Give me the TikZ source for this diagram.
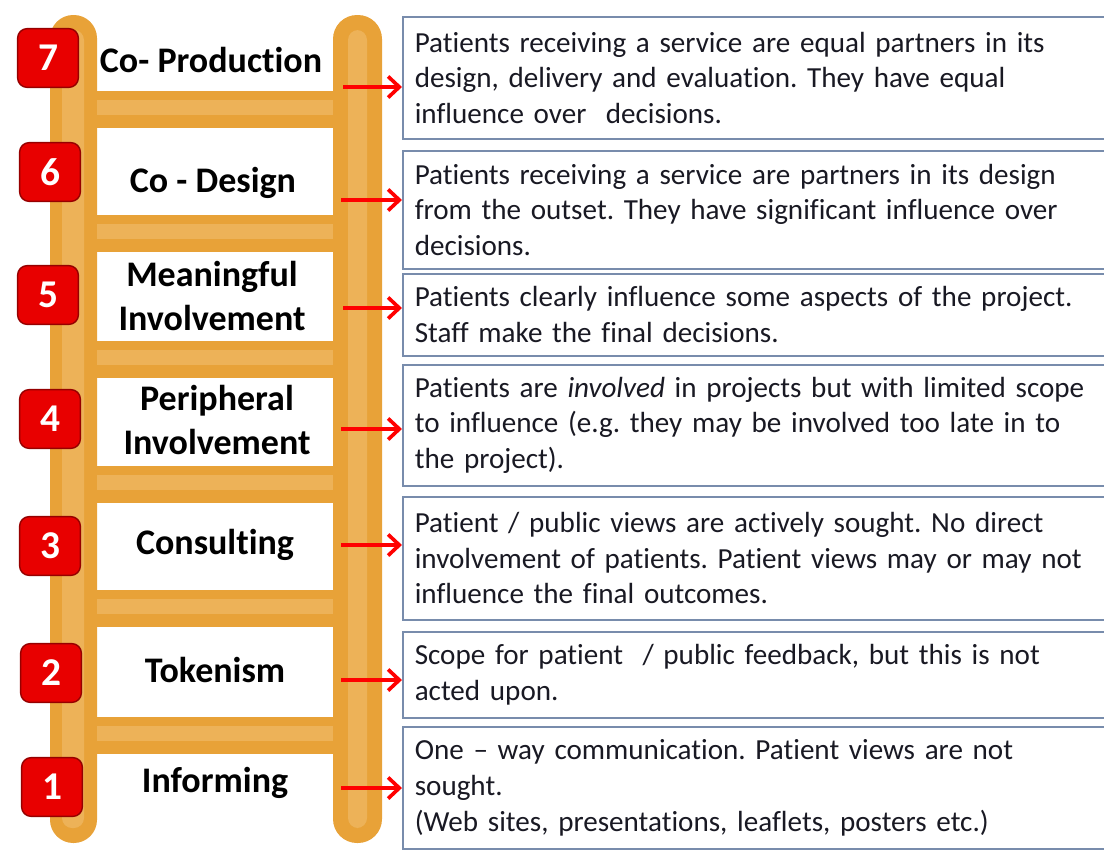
\documentclass[tikz,border=0pt]{standalone}
\usepackage{fontspec}
\setmainfont{Carlito}[Ligatures={TeX,NoCommon}]
\usetikzlibrary{arrows.meta}
\frenchspacing

\definecolor{railorange}{RGB}{232,162,56}
\definecolor{raillight}{RGB}{237,178,88}
\definecolor{badgered}{RGB}{232,0,0}
\definecolor{badgeedge}{RGB}{150,0,0}
\definecolor{boxedge}{RGB}{120,140,172}
\definecolor{boxtext}{RGB}{25,25,35}

\tikzset{
  badge/.style={draw=badgeedge, line width=1pt, fill=badgered,
    rounded corners=0.24cm, minimum width=1.52cm, minimum height=1.47cm,
    inner sep=0pt, text=white, font=\fontsize{28}{28}\selectfont\bfseries},
  rung label/.style={font=\fontsize{25.6}{31.3}\selectfont\bfseries,
    align=center, inner sep=0pt},
  infobox/.style={draw=boxedge, line width=1.1pt, fill=white, anchor=north west,
    text width=17.5cm, inner xsep=0.3cm, align=left, text=boxtext,
    font=\fontsize{20.7}{25.3}\selectfont},
  pointer/.style={->, draw=red, line width=2.6pt}
}

\begin{document}
\begin{tikzpicture}[x=0.025cm,y=-0.025cm,>={Straight Barb[length=8pt,width=15pt]}]

        % ============================================
        % PAGE FRAME
        % ============================================
        \useasboundingbox (0,0) rectangle (1104,849);
        \clip (0,0) rectangle (1104,849);

        % ============================================
        % LADDER – RAILS AND RUNGS
        % ============================================

        % Rails
        \fill[railorange, rounded corners=0.58cm] (50,15) rectangle (97,843);
        \fill[raillight, rounded corners=0.25cm] (62,30) rectangle (84,828);
        \fill[railorange, rounded corners=0.6cm] (333,15) rectangle (382,843);
        \fill[raillight, rounded corners=0.25cm] (348,30) rectangle (367,828);

        % Rungs (top to bottom)
        \fill[railorange] (97,91) rectangle (333,128);
        \fill[raillight] (97,100) rectangle (333,115);
        \fill[railorange] (97,215) rectangle (333,252);
        \fill[raillight] (97,224) rectangle (333,239);
        \fill[railorange] (97,341) rectangle (333,378);
        \fill[raillight] (97,350) rectangle (333,365);
        \fill[railorange] (97,466) rectangle (333,503);
        \fill[raillight] (97,475) rectangle (333,490);
        \fill[railorange] (97,590) rectangle (333,627);
        \fill[raillight] (97,599) rectangle (333,614);
        \fill[railorange] (97,717) rectangle (333,754);
        \fill[raillight] (97,726) rectangle (333,741);

        % Step names
        \node[rung label] (l7) at (211,60) {Co- Production};
        \node[rung label] (l6) at (213,183) {Co - Design};
        \node[rung label] (l5) at (212,296) {Meaningful\\Involvement};
        \node[rung label] (l4) at (217,420) {Peripheral\\Involvement};
        \node[rung label] (l3) at (215,545) {Consulting};
        \node[rung label] (l2) at (215,670) {Tokenism};
        \node[rung label] (l1) at (215,783) {Informing};

        % Step numbers
        \node[badge] (n7) at (48,58) {7};
        \node[badge] (n6) at (50,172) {6};
        \node[badge] (n5) at (48,295) {5};
        \node[badge] (n4) at (50,419) {4};
        \node[badge] (n3) at (50,546) {3};
        \node[badge] (n2) at (51,673) {2};
        \node[badge] (n1) at (52,787) {1};

        % ============================================
        % DESCRIPTIONS
        % ============================================

        \node[infobox, minimum height=3.05cm] (d7) at (402,16)
          {Patients receiving a service are equal partners in its\\
           design, delivery and evaluation. They have equal\\
           influence over~ decisions.};
        \node[infobox, minimum height=2.95cm] (d6) at (402,150)
          {Patients receiving a service are partners in its design\\
           from the outset. They have significant influence over\\
           decisions.};
        \node[infobox, minimum height=2.05cm] (d5) at (402,273)
          {Patients clearly influence some aspects of the project.\\
           Staff make the final decisions.};
        \node[infobox, minimum height=3.025cm] (d4) at (402,364)
          {Patients are \emph{involved} in projects but with limited scope\\
           to influence (e.g. they may be involved too late in to\\
           the project).};
        \node[infobox, minimum height=3.075cm] (d3) at (402,496)
          {Patient / public views are actively sought. No direct\\
           involvement of patients. Patient views may or may not\\
           influence the final outcomes.};
        \node[infobox, minimum height=2.15cm] (d2) at (402,631)
          {Scope for patient~ / public feedback, but this is not\\
           acted upon.};
        \node[infobox, minimum height=3.05cm] (d1) at (402,726)
          {One -- way communication. Patient views are not\\
           sought.\\
           (Web sites, presentations, leaflets, posters etc.)};

        % ============================================
        % Arrows from ladder to descriptions
        % ============================================
        \coordinate (a7) at (343,87);
        \coordinate (a6) at (341,200);
        \coordinate (a5) at (343,308);
        \coordinate (a4) at (341,429);
        \coordinate (a3) at (341,545);
        \coordinate (a2) at (341,680);
        \coordinate (a1) at (341,788);

        \draw[pointer] (a7) -- (a7 -| d7.west);
        \draw[pointer] (a6) -- (a6 -| d6.west);
        \draw[pointer] (a5) -- (a5 -| d5.west);
        \draw[pointer] (a4) -- (a4 -| d4.west);
        \draw[pointer] (a3) -- (a3 -| d3.west);
        \draw[pointer] (a2) -- (a2 -| d2.west);
        \draw[pointer] (a1) -- (a1 -| d1.west);

\end{tikzpicture}
\end{document}
